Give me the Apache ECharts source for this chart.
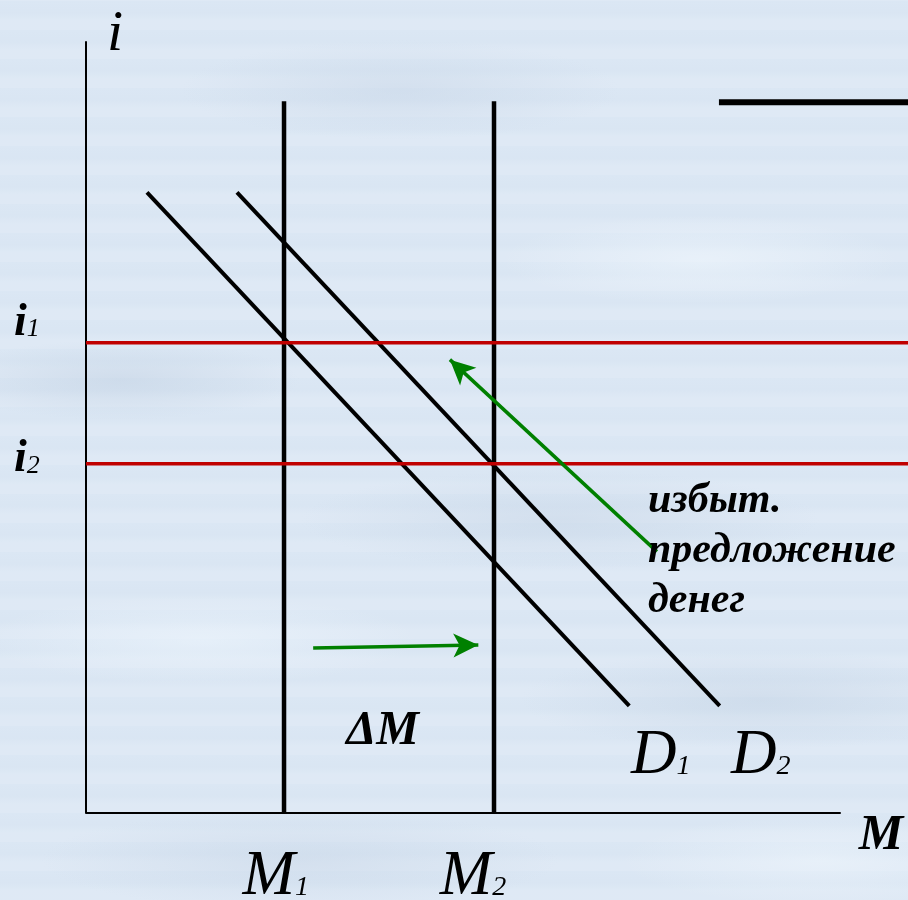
<!DOCTYPE html>
<html>
<head>
<meta charset="utf-8">
<script src="https://cdn.jsdelivr.net/npm/echarts@6/dist/echarts.min.js"></script>
<style>
  html, body { margin: 0; padding: 0; }
  body {
    width: 908px; height: 900px;
    background-color: #dbe7f4;
    background-image:
      radial-gradient(ellipse 180px 40px at 120px 380px, rgba(190,206,224,0.45), rgba(190,206,224,0) 100%),
      radial-gradient(ellipse 220px 50px at 400px 90px, rgba(195,210,228,0.40), rgba(195,210,228,0) 100%),
      radial-gradient(ellipse 200px 45px at 700px 260px, rgba(240,247,253,0.55), rgba(240,247,253,0) 100%),
      radial-gradient(ellipse 260px 50px at 560px 520px, rgba(192,208,226,0.40), rgba(192,208,226,0) 100%),
      radial-gradient(ellipse 220px 45px at 200px 640px, rgba(238,246,253,0.55), rgba(238,246,253,0) 100%),
      radial-gradient(ellipse 240px 50px at 760px 700px, rgba(190,206,224,0.40), rgba(190,206,224,0) 100%),
      radial-gradient(ellipse 260px 50px at 300px 860px, rgba(195,210,228,0.40), rgba(195,210,228,0) 100%),
      radial-gradient(ellipse 200px 45px at 820px 860px, rgba(240,247,253,0.50), rgba(240,247,253,0) 100%),
      repeating-linear-gradient(0deg, rgba(255,255,255,0.10) 0px, rgba(255,255,255,0.10) 9px, rgba(200,214,230,0.08) 17px, rgba(255,255,255,0.0) 29px);
  }
  #chart { width: 908px; height: 900px; }
</style>
</head>
<body>
<div id="chart"></div>
<script>
// Money market: supply shifts from M1 to M2, the rate falls from i1 to i2.
var moneySupply = [26.5, 54.6];          // M1, M2
var supplyTop = 92.3;
var interestRates = [61.0, 45.3];        // i1, i2
var axisEnd = 101.0;
var rateLineEnd = 110;
var demand1 = [[8.16, 80.5], [72.7, 13.9]];
var demand2 = [[20.2, 80.5], [84.8, 13.9]];
var cornerBar = [[84.7, 92.2], [110, 92.2]];
var shiftArrow = [[30.4, 21.4], [52.5, 21.8]];
var excessArrow = [[76.4, 33.9], [48.7, 58.8]];

var serif = '"Liberation Serif", "DejaVu Serif", serif';

// text labels: [M, i, rich text]
var labels = [
  [3.9, 100.9, '{n|i}'],
  [-7.9, 63.6, '{b|i}{s|1}'],
  [-7.9, 45.9, '{b|i}{s|2}'],
  [106.4, -3.0, '{bm|M}'],
  [25.4, -8.4, '{big|M}{sub|1}'],
  [51.8, -8.4, '{big|M}{sub|2}'],
  [76.9, 7.3, '{big|D}{sub|1}'],
  [90.3, 7.3, '{big|D}{sub|2}'],
  [39.7, 10.6, '{dm|ΔM}']
];
var noteText = ['избыт.', 'предложение', 'денег'];
var notePos = [75.2, 34.0];

var rich = {
  n: { fontFamily: serif, fontStyle: 'italic', fontSize: 58, color: '#000' },
  b: { fontFamily: serif, fontStyle: 'italic', fontWeight: 'bold', fontSize: 46, color: '#000' },
  s: { fontFamily: serif, fontStyle: 'italic', fontSize: 26, color: '#000', padding: [14, 0, 0, 0] },
  bm: { fontFamily: serif, fontStyle: 'italic', fontWeight: 'bold', fontSize: 50, color: '#000' },
  big: { fontFamily: serif, fontStyle: 'italic', fontSize: 63, color: '#000' },
  sub: { fontFamily: serif, fontStyle: 'italic', fontSize: 28, color: '#000', padding: [20, 0, 0, 0] },
  dm: { fontFamily: serif, fontStyle: 'italic', fontWeight: 'bold', fontSize: 48, color: '#000' }
};

function seg(points, color, width, z) {
  return {
    type: 'line', data: points, showSymbol: false, symbol: 'none', clip: false,
    lineStyle: { color: color, width: width, cap: 'butt' }, z: z, silent: true,
    animation: false
  };
}

var series = [];
series.push(seg([[0, 0], [axisEnd, 0]], '#000', 2, 1));
moneySupply.forEach(function (m) {
  series.push(seg([[m, 0], [m, supplyTop]], '#000', 4.5, 2));
});
series.push(seg(demand1, '#000', 4, 2));
series.push(seg(demand2, '#000', 4, 2));
series.push(seg(cornerBar, '#000', 6, 2));
interestRates.forEach(function (r) {
  series.push(seg([[0, r], [rateLineEnd, r]], '#c00000', 3.5, 3));
});

// green arrows
series.push({
  type: 'line', data: [], z: 4, animation: false,
  markLine: {
    silent: true, animation: false,
    symbol: ['none', 'arrow'], symbolSize: [18, 25],
    label: { show: false },
    lineStyle: { color: '#008000', width: 3.5, type: 'solid' },
    data: [
      [{ coord: shiftArrow[0] }, { coord: shiftArrow[1] }],
      [{ coord: excessArrow[0] }, { coord: excessArrow[1] }]
    ]
  }
});

// text labels
series.push({
  type: 'scatter', symbolSize: 0, clip: false, z: 5, animation: false, silent: true,
  itemStyle: { opacity: 1 },
  data: labels.map(function (l) { return { value: [l[0], l[1]], text: l[2] }; }),
  label: {
    show: true, position: 'inside', align: 'center', verticalAlign: 'middle', opacity: 1,
    formatter: function (p) { return p.data.text; },
    rich: rich
  }
});
series.push({
  type: 'scatter', symbolSize: 0, clip: false, z: 5, animation: false, silent: true,
  itemStyle: { opacity: 1 },
  data: [{ value: notePos }],
  label: {
    show: true, position: 'right', distance: 0, align: 'left', verticalAlign: 'middle', opacity: 1,
    formatter: noteText.join('\n'),
    fontFamily: serif, fontStyle: 'italic', fontWeight: 'bold', fontSize: 42,
    lineHeight: 50, color: '#000'
  }
});

var chart = echarts.init(document.getElementById('chart'), null, { renderer: 'canvas' });
chart.setOption({
  backgroundColor: 'transparent',
  animation: false,
  grid: { left: 86, right: 0, top: 42, bottom: 87 },
  xAxis: {
    type: 'value', min: 0, max: 110,
    axisLine: { show: false },
    axisTick: { show: false }, axisLabel: { show: false }, splitLine: { show: false }
  },
  yAxis: {
    type: 'value', min: 0, max: 100,
    axisLine: { show: true, lineStyle: { color: '#000', width: 2 } },
    axisTick: { show: false }, axisLabel: { show: false }, splitLine: { show: false }
  },
  series: series
});
</script>
</body>
</html>
